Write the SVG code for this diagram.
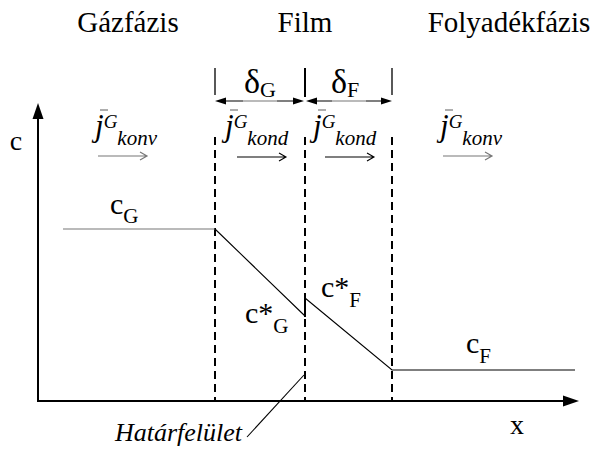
<svg xmlns="http://www.w3.org/2000/svg" width="600" height="455" viewBox="0 0 600 455">
<style>
.t{font-family:"Liberation Serif","Times New Roman",serif;fill:#000}
.i{font-style:italic}
.ln{stroke:#000;fill:none;stroke-width:1.3}
.ax{stroke:#000;fill:none;stroke-width:2}
.da{stroke:#000;fill:none;stroke-width:2;stroke-dasharray:8,5}
.ah{fill:#000;stroke:none}
.fa{stroke:#000;fill:none;stroke-width:1.1}
.gy{stroke:#777;fill:none;stroke-width:1.2}
</style>
<rect width="600" height="455" fill="#fff"/>
<g id="headings">
<text class="t" x="128" y="32" font-size="29" text-anchor="middle">Gázfázis</text>
<text class="t" x="305" y="32" font-size="29" text-anchor="middle">Film</text>
<text class="t" x="509" y="32" font-size="29" text-anchor="middle">Folyadékfázis</text>
</g>
<g id="axes">
<path class="ax" d="M38,115 V401 H565"/>
<path class="ah" d="M38,103 L32.5,119 L43.5,119 Z"/>
<path class="ah" d="M579,401 L563,395.5 L563,406.5 Z"/>
<text class="t" x="16" y="150" font-size="28" text-anchor="middle">c</text>
<text class="t" x="517" y="434" font-size="28" text-anchor="middle">x</text>
</g>
<g id="film-bounds">
<path class="da" d="M215,137 V401 M305,137 V401 M392,137 V401"/>
<path class="ax" d="M305,298 V317"/>
</g>
<g id="thickness">
<path class="ln" d="M215,68 V95 M392,68 V95"/>
<path class="ax" d="M305,68 V97"/>
<path class="fa" d="M222,101 H243 M277,101 H298 M311,101 H332 M366,101 H386"/>
<path class="gy" d="M243,101 H277 M332,101 H366"/>
<path class="ah" d="M215,101 L226,97.5 L226,104.5 Z M304,101 L293,97.5 L293,104.5 Z M306,101 L317,97.5 L317,104.5 Z M392,101 L381,97.5 L381,104.5 Z"/>
<text class="t" x="244" y="93" font-size="34">δ<tspan font-size="22" dy="4">G</tspan></text>
<text class="t" x="331" y="93" font-size="34">δ<tspan font-size="22" dy="4">F</tspan></text>
</g>
<g id="flux-konv-gas">
<text class="t i" x="95" y="136" font-size="31">j<tspan font-size="19" dy="-8">G</tspan><tspan font-size="21" dy="17">konv</tspan></text>
<path class="gy" d="M100,110 H108"/>
<path class="gy" d="M98,156 H147 M140,152 L147,156 L140,160"/>
</g>
<g id="flux-kond-gas">
<text class="t i" x="225" y="136" font-size="31">j<tspan font-size="19" dy="-8">G</tspan><tspan font-size="21" dy="17">kond</tspan></text>
<path class="gy" d="M230,110 H238"/>
<path class="fa" d="M237,157 H286 M279,153 L286,157 L279,161"/>
</g>
<g id="flux-kond-liq">
<text class="t i" x="313" y="136" font-size="31">j<tspan font-size="19" dy="-8">G</tspan><tspan font-size="21" dy="17">kond</tspan></text>
<path class="gy" d="M318,110 H326"/>
<path class="fa" d="M325,157 H374 M367,153 L374,157 L367,161"/>
</g>
<g id="flux-konv-liq">
<text class="t i" x="440" y="136" font-size="31">j<tspan font-size="19" dy="-8">G</tspan><tspan font-size="21" dy="17">konv</tspan></text>
<path class="gy" d="M445,110 H453"/>
<path class="gy" d="M443,156 H492 M485,152 L492,156 L485,160"/>
</g>
<g id="profile">
<path class="gy" d="M63,229 H215"/>
<path class="fa" d="M215,229 L305,316 M305,298 L392,370 H575"/>
</g>
<g id="conc-labels">
<text class="t" x="110" y="214" font-size="30">c<tspan font-size="21" dy="9">G</tspan></text>
<text class="t" x="245" y="323" font-size="30">c*<tspan font-size="21" dy="10">G</tspan></text>
<text class="t" x="321" y="297" font-size="30">c*<tspan font-size="21" dy="10">F</tspan></text>
<text class="t" x="466" y="353" font-size="30">c<tspan font-size="21" dy="10">F</tspan></text>
</g>
<g id="interface-label">
<path class="fa" d="M304,375 L247,437"/>
<text class="t i" x="242" y="441" font-size="26" text-anchor="end">Határfelület</text>
</g>
</svg>
